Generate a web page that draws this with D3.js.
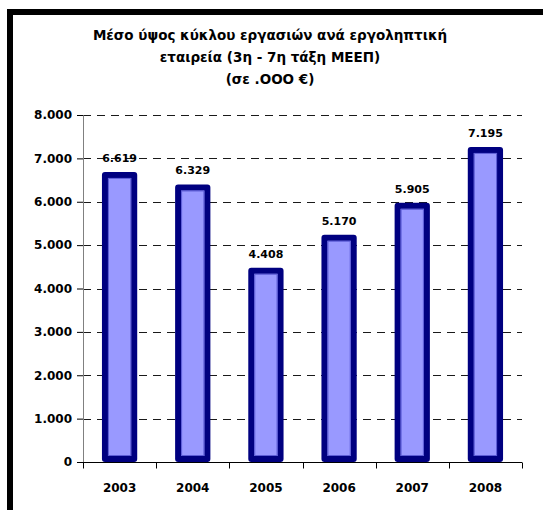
<!DOCTYPE html>
<html>
<head>
<meta charset="utf-8">
<script src="https://cdn.jsdelivr.net/npm/d3@7"></script>
<style>
  body { margin: 0; background: #fff; }
  svg { display: block; font-family: 'DejaVu Sans', Verdana, sans-serif; }
  .grid line { stroke: #1a1a1a; stroke-width: 1px; stroke-dasharray: 8 6; shape-rendering: crispEdges; }
  .grid .domain { display: none; }
</style>
</head>
<body>
<div id="chart"></div>
<script>
const years = ['2003', '2004', '2005', '2006', '2007', '2008']
const turnover = [6619, 6329, 4408, 5170, 5905, 7195]
const yTicks = [0, 1000, 2000, 3000, 4000, 5000, 6000, 7000, 8000]
const titleLines = [
  'Μέσο ύψος κύκλου εργασιών ανά εργοληπτική',
  'εταιρεία (3η - 7η τάξη ΜΕΕΠ)',
  '(σε .ΟΟΟ €)'
]

const width = 543,
  height = 510,
  margin = { top: 115, right: 21, bottom: 48, left: 83 }

const fmt = d3.format(',')
const greek = v => fmt(v).replace(/,/g, '.')

const svg = d3
  .select('#chart')
  .append('svg')
  .attr('width', width)
  .attr('height', height)

// frame (top and left edges visible)
svg
  .append('rect')
  .attr('x', 10)
  .attr('y', 12)
  .attr('width', 700)
  .attr('height', 700)
  .attr('fill', 'none')
  .attr('stroke', '#000')
  .attr('stroke-width', 6)

// title
svg
  .append('text')
  .attr('text-anchor', 'middle')
  .attr('font-weight', 'bold')
  .attr('font-size', 13.5)
  .selectAll('tspan')
  .data(titleLines)
  .enter()
  .append('tspan')
  .attr('x', 270)
  .attr('y', (d, i) => 40 + i * 22)
  .text(d => d)

const xScale = d3
  .scaleBand()
  .domain(years)
  .range([margin.left, width - margin.right])
  .paddingInner(0.6)
  .paddingOuter(0.3)

const yScale = d3
  .scaleLinear()
  .domain([0, 8000])
  .range([height - margin.bottom, margin.top])

// gridlines
svg
  .append('g')
  .attr('class', 'grid')
  .attr('transform', 'translate(' + margin.left + ',0)')
  .call(
    d3
      .axisLeft(yScale)
      .tickValues(yTicks.slice(1))
      .tickSize(-(width - margin.left - margin.right))
      .tickFormat('')
  )

// y axis
const yAxis = svg
  .append('g')
  .attr('transform', 'translate(' + margin.left + ',0)')
  .call(d3.axisLeft(yScale).tickValues(yTicks).tickSize(6).tickPadding(5).tickFormat(greek))
yAxis.select('.domain').attr('stroke', '#808080')
yAxis.selectAll('.tick line').attr('stroke', '#000')
yAxis
  .selectAll('text')
  .attr('font-family', 'DejaVu Sans, Verdana, sans-serif')
  .attr('font-size', 12)
  .attr('font-weight', 'bold')
  .attr('fill', '#000')

// bars
const bars = svg.append('g')
years.forEach((year, i) => {
  const x = xScale(year),
    w = xScale.bandwidth(),
    top = yScale(turnover[i]),
    bottom = yScale(0) - 3
  bars
    .append('rect')
    .attr('x', x)
    .attr('y', top)
    .attr('width', w)
    .attr('height', bottom - top)
    .attr('fill', '#9999ff')
    .attr('stroke', '#000080')
    .attr('stroke-width', 6)
    .attr('stroke-linejoin', 'round')
  bars
    .append('rect')
    .attr('x', x + 3.5)
    .attr('y', top + 3.5)
    .attr('width', w - 7)
    .attr('height', bottom - top - 7)
    .attr('fill', 'none')
    .attr('stroke', '#5c5cd6')
    .attr('stroke-width', 1)
  bars
    .append('text')
    .attr('x', x + w / 2)
    .attr('y', top - 13)
    .attr('text-anchor', 'middle')
    .attr('font-size', 11)
    .attr('font-weight', 'bold')
    .text(greek(turnover[i]))
})

// x axis with ticks between categories
const xAxisG = svg
  .append('g')
  .attr('transform', 'translate(0,' + (Math.round(yScale(0)) + 0.5) + ')')
xAxisG
  .append('line')
  .attr('x1', margin.left - 6)
  .attr('x2', width - margin.right)
  .attr('stroke', '#000')
const step = xScale.step()
xAxisG
  .selectAll('.sep')
  .data(d3.range(years.length + 1))
  .enter()
  .append('line')
  .attr('x1', i => Math.round(margin.left + i * step) + 0.5)
  .attr('x2', i => Math.round(margin.left + i * step) + 0.5)
  .attr('y1', 0)
  .attr('y2', 6)
  .attr('stroke', '#000')
xAxisG
  .selectAll('.lbl')
  .data(years)
  .enter()
  .append('text')
  .attr('x', d => xScale(d) + xScale.bandwidth() / 2)
  .attr('y', 29)
  .attr('text-anchor', 'middle')
  .attr('font-size', 12)
  .attr('font-weight', 'bold')
  .text(d => d)
</script>
</body>
</html>
